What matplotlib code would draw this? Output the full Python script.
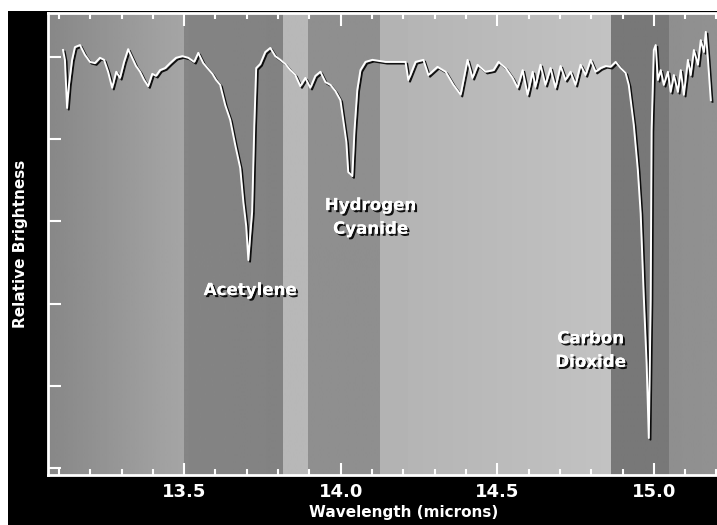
import numpy as np
import matplotlib
matplotlib.use('Agg')
import matplotlib.pyplot as plt
import matplotlib.patheffects as pe
from matplotlib.patches import Rectangle

# spectrum (wavelength in microns, relative brightness)
wavelength= [13.113, 13.119, 13.126, 13.132, 13.142, 13.151, 13.167, 13.183, 13.199, 13.215,
	13.231, 13.244, 13.257, 13.270, 13.283, 13.295, 13.308, 13.321, 13.334, 13.346,
	13.359, 13.372, 13.385, 13.398, 13.410, 13.423, 13.439, 13.455, 13.474, 13.494,
	13.513, 13.532, 13.545, 13.561, 13.574, 13.590, 13.602, 13.615, 13.631, 13.647,
	13.663, 13.679, 13.689, 13.698, 13.705, 13.711, 13.717, 13.724, 13.730, 13.743,
	13.759, 13.775, 13.791, 13.807, 13.823, 13.839, 13.855, 13.871, 13.887, 13.903,
	13.919, 13.935, 13.951, 13.967, 13.983, 13.999, 14.008, 14.018, 14.024, 14.037,
	14.044, 14.053, 14.063, 14.079, 14.101, 14.143, 14.207, 14.216, 14.239, 14.264,
	14.280, 14.309, 14.335, 14.360, 14.383, 14.405, 14.421, 14.437, 14.463, 14.488,
	14.504, 14.527, 14.549, 14.565, 14.581, 14.597, 14.613, 14.622, 14.638, 14.654,
	14.670, 14.686, 14.702, 14.718, 14.734, 14.750, 14.766, 14.782, 14.798, 14.814,
	14.830, 14.846, 14.862, 14.878, 14.894, 14.910, 14.920, 14.926, 14.936, 14.949,
	14.958, 14.968, 14.977, 14.984, 14.990, 14.993, 15.000, 15.006, 15.013, 15.022,
	15.032, 15.045, 15.054, 15.064, 15.077, 15.086, 15.096, 15.109, 15.118, 15.128,
	15.141, 15.150, 15.160, 15.166, 15.173, 15.182]
brightness= [1.017, 0.993, 0.876, 0.932, 0.993, 1.024, 1.029, 1.005, 0.988, 0.985,
	0.998, 0.993, 0.964, 0.925, 0.964, 0.949, 0.988, 1.019, 0.998, 0.978,
	0.964, 0.944, 0.929, 0.959, 0.954, 0.968, 0.973, 0.985, 0.998, 1.002,
	0.998, 0.988, 1.010, 0.985, 0.973, 0.959, 0.944, 0.932, 0.883, 0.847,
	0.786, 0.730, 0.647, 0.589, 0.506, 0.567, 0.623, 0.835, 0.973, 0.983,
	1.012, 1.022, 1.002, 0.993, 0.983, 0.968, 0.956, 0.929, 0.949, 0.925,
	0.954, 0.964, 0.939, 0.932, 0.917, 0.895, 0.847, 0.793, 0.720, 0.710,
	0.822, 0.920, 0.968, 0.988, 0.993, 0.988, 0.988, 0.944, 0.988, 0.993,
	0.956, 0.976, 0.964, 0.932, 0.908, 0.993, 0.949, 0.981, 0.964, 0.968,
	0.988, 0.973, 0.949, 0.925, 0.968, 0.908, 0.964, 0.927, 0.981, 0.932,
	0.973, 0.925, 0.978, 0.944, 0.964, 0.932, 0.981, 0.956, 0.993, 0.964,
	0.973, 0.978, 0.976, 0.988, 0.973, 0.961, 0.932, 0.895, 0.835, 0.725,
	0.620, 0.416, 0.255, 0.073, 0.409, 0.822, 1.017, 1.029, 0.944, 0.968,
	0.932, 0.964, 0.915, 0.956, 0.915, 0.968, 0.908, 0.993, 0.956, 1.017,
	0.981, 1.041, 1.012, 1.061, 0.993, 0.895]

# background bands: edges in microns, gray level at left/right of each band
band_edges= [13.065, 13.5, 13.817, 13.897, 14.127, 14.862, 15.048, 15.205]
band_gray_left=  [0.53, 0.52, 0.72, 0.56, 0.70, 0.47, 0.56]
band_gray_right= [0.65, 0.51, 0.72, 0.56, 0.76, 0.47, 0.57]

labels= ['Acetylene', 'Hydrogen\nCyanide', 'Carbon\nDioxide']
label_x= [13.711, 14.095, 14.798]
label_y= [0.433, 0.611, 0.287]

x_ticks= [13.5, 14.0, 14.5, 15.0]
x_ticklabels= ['13.5', '14.0', '14.5', '15.0']
y_ticks= [0.0, 0.2, 0.4, 0.6, 0.8, 1.0]

def main():
	fig= plt.figure(figsize=(7.17, 5.25), dpi=100)
	fig.patch.set_facecolor('white')
	# black frame, leaving the thin white strips at the top and left
	fig.patches.append(Rectangle((8/717, 0), 1, 1-11/525, transform=fig.transFigure,
		facecolor='black', edgecolor='none', zorder=-10))

	ax= fig.add_axes([48/717, 50/525, 670/717, 462/525])
	ylo, yhi= -0.017, 1.107

	for i in range(len(band_edges)-1):
		grad= np.linspace(band_gray_left[i], band_gray_right[i], 64).reshape(1, -1)
		ax.imshow(grad, extent=[band_edges[i], band_edges[i+1], ylo, yhi], aspect='auto',
			cmap='gray', vmin=0, vmax=1, interpolation='bilinear', zorder=0)

	ax.plot(wavelength, brightness, color='white', lw=1.4, zorder=3,
		path_effects=[pe.SimpleLineShadow(offset=(1.2, -1.2), shadow_color='black', alpha=0.9), pe.Normal()])

	shadow= [pe.withSimplePatchShadow(offset=(1.5, -1.5), shadow_rgbFace='black', alpha=0.9), pe.Normal()]
	for txt, x, y in zip(labels, label_x, label_y):
		ax.text(x, y, txt, color='white', fontsize=12, fontweight='bold', ha='center', va='center',
			linespacing=1.4, path_effects=shadow, zorder=4)

	ax.set_xlim(band_edges[0], band_edges[-1])
	ax.set_ylim(ylo, yhi)
	ax.set_xticks(x_ticks)
	ax.set_xticklabels(x_ticklabels)
	ax.set_xticks(np.arange(13.1, 15.25, 0.1), minor=True)
	ax.set_yticks(y_ticks)
	ax.set_yticklabels([])

	ax.tick_params(which='both', direction='in', colors='white', top=True, right=False, width=1.5)
	ax.tick_params(which='major', length=9, labelsize=13, pad=6)
	ax.tick_params(which='minor', length=4)
	for lbl in ax.get_xticklabels():
		lbl.set_fontweight('bold')
	for sp in ax.spines.values():
		sp.set_color('white')
		sp.set_linewidth(2)
	ax.spines['right'].set_visible(False)

	ax.set_xlabel('Wavelength (microns)', color='white', fontsize=11, fontweight='bold')
	ax.xaxis.set_label_coords(0.531, -0.066)
	ax.set_ylabel('Relative Brightness', color='white', fontsize=11, fontweight='bold')
	ax.yaxis.set_label_coords(-0.03, 0.5)

	fig.savefig('out.png', dpi=100, facecolor=fig.get_facecolor())

if __name__=='__main__':
	main()
